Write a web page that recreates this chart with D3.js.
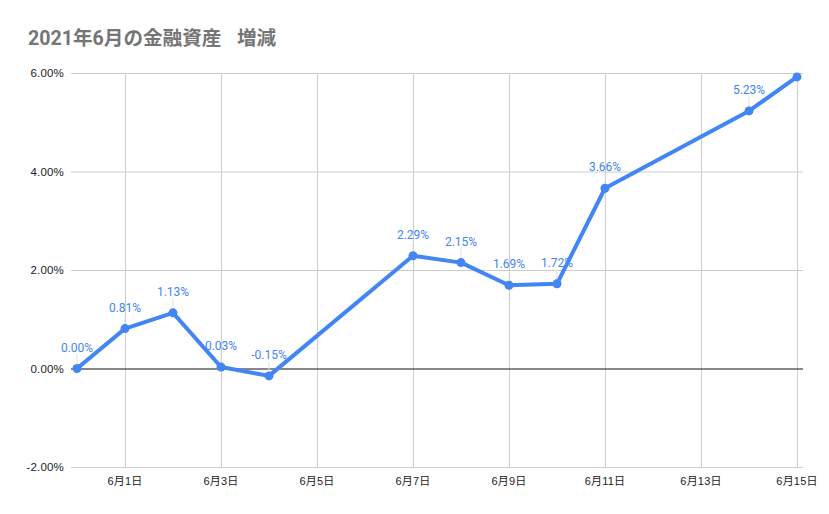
<!DOCTYPE html>
<html>
<head>
<meta charset="utf-8">
<script src="https://cdn.jsdelivr.net/npm/d3@7"></script>
<style>
  body { margin: 0; background: #fff; }
  svg { display: block; }
</style>
</head>
<body>
<svg id="chart"></svg>
<script>
// Chart dimensions
const width = 829;
const height = 514;

const titleMain = "2021年6月の金融資産";
const titleSub = "　増減";

// data
const dates = ["2021-05-31", "2021-06-01", "2021-06-02", "2021-06-03", "2021-06-04",
  "2021-06-07", "2021-06-08", "2021-06-09", "2021-06-10", "2021-06-11",
  "2021-06-14", "2021-06-15"];
const values = [0.00, 0.81, 1.13, 0.03, -0.15, 2.29, 2.15, 1.69, 1.72, 3.66, 5.23, 5.92];
const showLabel = [true, true, true, true, true, true, true, true, true, true, true, false];

const xTickDates = ["2021-06-01", "2021-06-03", "2021-06-05", "2021-06-07",
  "2021-06-09", "2021-06-11", "2021-06-13", "2021-06-15"];
const xTickLabels = ["6月1日", "6月3日", "6月5日", "6月7日", "6月9日", "6月11日", "6月13日", "6月15日"];
const yTicks = [-2, 0, 2, 4, 6];

const parse = d3.utcParse("%Y-%m-%d");
const data = dates.map((d, i) => ({ date: parse(d), value: values[i], label: showLabel[i] }));

// plain hyphen for negatives, like the original
const pct = v => d3.format(".2f")(v).replace("\u2212", "-") + "%";

const plotLeft = 71, plotRight = 803;
const plotTop = 73, plotBottom = 467;

const x = d3.scaleUtc()
  .domain([parse("2021-05-31"), parse("2021-06-15")])
  .range([77, 797]);

const y = d3.scaleLinear()
  .domain([-2, 6])
  .range([plotBottom, plotTop]);

const svg = d3.select("#chart")
  .attr("width", width)
  .attr("height", height)
  .attr("viewBox", [0, 0, width, height]);

// title
const t = svg.append("text")
  .attr("x", 28)
  .attr("y", 45)
  .attr("fill", "#757575")
  .attr("font-family", "Roboto, 'Noto Sans CJK JP', sans-serif")
  .attr("font-weight", "bold")
  .attr("font-size", 19.6);
t.append("tspan").text(titleMain);
t.append("tspan").attr("dx", -4).text(titleSub);

// horizontal grid
svg.append("g")
  .selectAll("line")
  .data(yTicks.filter(d => d !== 0))
  .join("line")
    .attr("x1", plotLeft)
    .attr("x2", plotRight)
    .attr("y1", d => y(d) + 0.5)
    .attr("y2", d => y(d) + 0.5)
    .attr("stroke", "#cccccc")
    .attr("stroke-width", 1);

// vertical grid
const xTicks = xTickDates.map(parse);
svg.append("g")
  .selectAll("line")
  .data(xTicks)
  .join("line")
    .attr("x1", d => Math.round(x(d)) + 0.5)
    .attr("x2", d => Math.round(x(d)) + 0.5)
    .attr("y1", plotTop)
    .attr("y2", plotBottom)
    .attr("stroke", "#cccccc")
    .attr("stroke-width", 1);

// zero line
svg.append("line")
  .attr("x1", plotLeft)
  .attr("x2", plotRight)
  .attr("y1", y(0) + 0.5)
  .attr("y2", y(0) + 0.5)
  .attr("stroke", "#111111")
  .attr("stroke-width", 1);

// y labels
svg.append("g")
  .selectAll("text")
  .data(yTicks)
  .join("text")
    .attr("x", 64)
    .attr("y", d => y(d) + 4)
    .attr("text-anchor", "end")
    .attr("fill", "#222222")
    .attr("font-family", "'Liberation Sans', Arial, sans-serif")
    .attr("font-size", 11.5)
    .attr("letter-spacing", 0.2)
    .text(d => pct(d));

// x labels
svg.append("g")
  .selectAll("text")
  .data(xTicks)
  .join("text")
    .attr("x", d => x(d))
    .attr("y", 485)
    .attr("text-anchor", "middle")
    .attr("fill", "#222222")
    .attr("font-family", "'Liberation Sans', 'Noto Sans CJK JP', sans-serif")
    .attr("font-size", 11)
    .attr("letter-spacing", 0.2)
    .text((d, i) => xTickLabels[i]);

// leader lines for data labels
const labeled = data.filter(d => d.label);
svg.append("g")
  .selectAll("line")
  .data(labeled)
  .join("line")
    .attr("x1", d => x(d.date))
    .attr("x2", d => x(d.date))
    .attr("y1", d => y(d.value) - 14)
    .attr("y2", d => y(d.value) - 4)
    .attr("stroke", "#e0e0e0")
    .attr("stroke-width", 1);

// the line
const line = d3.line()
  .x(d => x(d.date))
  .y(d => y(d.value));

svg.append("path")
  .datum(data)
  .attr("fill", "none")
  .attr("stroke", "#4285f4")
  .attr("stroke-width", 4)
  .attr("stroke-linejoin", "round")
  .attr("d", line);

// points
svg.append("g")
  .attr("fill", "#4285f4")
  .selectAll("circle")
  .data(data)
  .join("circle")
    .attr("cx", d => x(d.date))
    .attr("cy", d => y(d.value))
    .attr("r", 4.5);

// data labels
svg.append("g")
  .selectAll("text")
  .data(labeled)
  .join("text")
    .attr("x", d => x(d.date))
    .attr("y", d => y(d.value) - 17)
    .attr("text-anchor", "middle")
    .attr("fill", "#4285f4")
    .attr("font-family", "Roboto, sans-serif")
    .attr("font-size", 12)
    .text(d => pct(d.value));
</script>
</body>
</html>
